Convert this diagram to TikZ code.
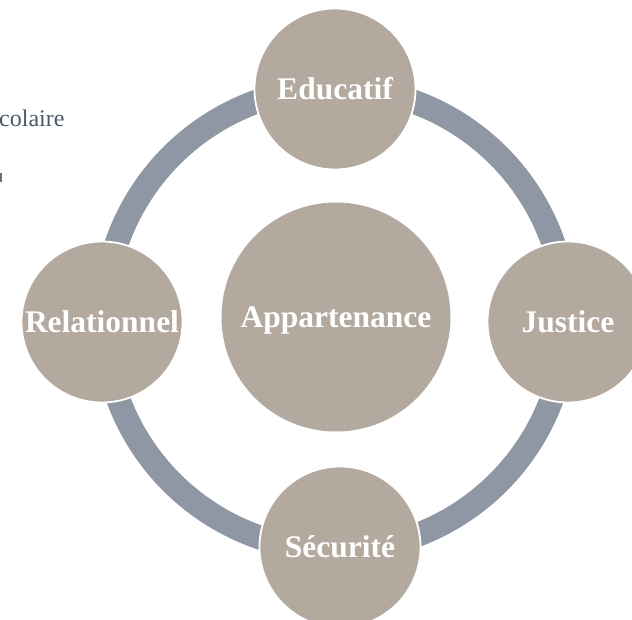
\documentclass[tikz,border=0pt]{standalone}
\usepackage{fontspec}
\setmainfont{Liberation Serif}
\definecolor{taupe}{HTML}{B3A99F}
\definecolor{ringgray}{HTML}{8E97A3}
\definecolor{slatetext}{HTML}{4E586A}
\begin{document}
\begin{tikzpicture}[x=1pt,y=-1pt,
  bubble/.style={circle, fill=taupe, draw=white, line width=1.8pt,
    minimum size=161pt, inner sep=0pt, text=white,
    font=\bfseries\fontsize{31.5}{37}\selectfont,
    text height=20.5pt, text depth=0pt},
  hub/.style={bubble, draw=none, minimum size=229pt},
  ring/.style={draw=ringgray, line width=24pt}]
\useasboundingbox (0,0) rectangle (632,619);
\clip (0,0) rectangle (632,619);

% partial caption text at the upper left
\node[anchor=base west, inner sep=0pt, text=slatetext,
      font=\fontsize{24}{28}\selectfont] (cap) at (-1,126) {colaire};
\fill[slatetext!85] (0,173) rectangle (2,182);

% the ring linking the outer themes
\coordinate (o) at (335,319);
\draw[ring] (o) circle[radius=231pt];

% central theme
\node[hub] (app) at (336,317) {Appartenance};

% outer themes
\node[bubble] (edu) at (335,89)  {Educatif};
\node[bubble] (jus) at (568,322) {Justice};
\node[bubble] (sec) at (340,547) {Sécurité};
\node[bubble] (rel) at (102,322) {Relationnel};
\end{tikzpicture}
\end{document}
